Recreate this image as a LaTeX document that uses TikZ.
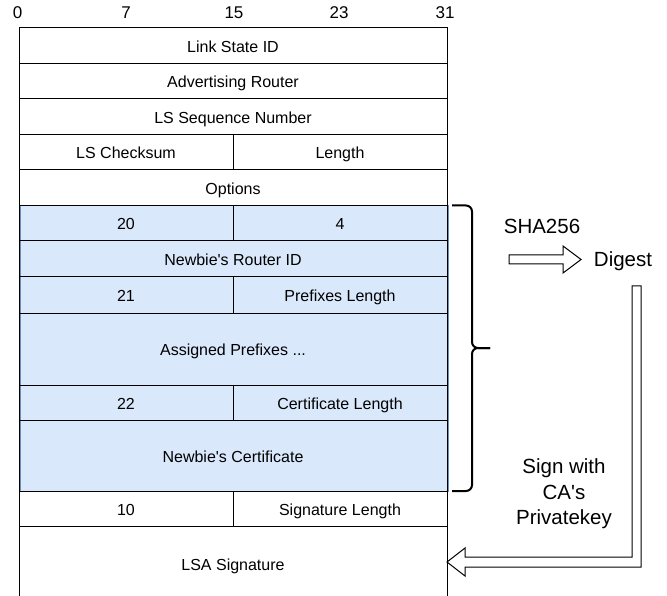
\documentclass[tikz,border=0pt]{standalone}
\usepackage{fontspec}
\setmainfont{Liberation Sans}
\definecolor{bluefill}{HTML}{DAE8FC}
\definecolor{bluestroke}{HTML}{6C8EBF}
\newcommand\mkcell[6]{\node[cellbox, minimum width={#4-#2}, minimum height={#5-#3}] (#1) at ({(#2+#4)/2},{(#3+#5)/2}) {#6};}
\newcommand\apos{\textquotesingle}
\tikzset{
  cellbox/.style={draw=black, line width=1pt, inner sep=0pt, rectangle, text height=13.5pt, text depth=0pt, font=\fontsize{16}{19}\selectfont},
  bitnum/.style={font=\fontsize{17}{20}\selectfont, inner sep=0pt, text height=12pt, text depth=0pt},
  biglabel/.style={font=\fontsize{20.5}{25.5}\selectfont, inner sep=0pt, align=center},
  hollow/.style={draw=black, line width=1pt, fill=white, line join=miter},
  bracepath/.style={draw=black, line width=2pt, rounded corners=6pt}
}
\begin{document}
\begin{tikzpicture}[x=1pt,y=-1pt]
\clip (0,0) rectangle (667,596);
\fill[white] (0,0) rectangle (667,596);
% bit numbers
\node[bitnum] (b0) at (17.5,13) {0};
\node[bitnum] (b7) at (126,13) {7};
\node[bitnum] (b15) at (234,13) {15};
\node[bitnum] (b23) at (339,13) {23};
\node[bitnum] (b31) at (445,13) {31};
% blue background of signed region
\draw[fill=bluefill, draw=bluestroke, line width=1pt] (20,205.5) rectangle (448,491);
% cells
\mkcell{lsid}{19}{28}{447}{63.5}{Link State ID}
\mkcell{adv}{19}{63.5}{447}{99}{Advertising Router}
\mkcell{seq}{19}{99}{447}{134.5}{LS Sequence Number}
\mkcell{cks}{19}{134.5}{233}{170}{LS Checksum}
\mkcell{len}{233}{134.5}{447}{170}{Length}
\mkcell{opt}{19}{170}{447}{205.5}{Options}
\mkcell{t20}{19}{205.5}{233}{241}{20}
\mkcell{l4}{233}{205.5}{447}{241}{4}
\mkcell{rid}{19}{241}{447}{277}{Newbie\apos s Router ID}
\mkcell{t21}{19}{277}{233}{313}{21}
\mkcell{plen}{233}{277}{447}{313}{Prefixes Length}
\mkcell{apref}{19}{313}{447}{385}{Assigned Prefixes ...}
\mkcell{t22}{19}{385}{233}{420.5}{22}
\mkcell{clen}{233}{385}{447}{420.5}{Certificate Length}
\mkcell{cert}{19}{420.5}{447}{491}{Newbie\apos s Certificate}
\mkcell{t10}{19}{491}{233}{526.5}{10}
\mkcell{slen}{233}{491}{447}{526.5}{Signature Length}
\mkcell{sig}{19}{526.5}{447}{600}{LSA Signature}
% brace
\draw[bracepath] (452,205.5) -- (472,205.5) -- (472,348) -- (490,348);
\draw[bracepath] (452,491) -- (472,491) -- (472,348) -- (490,348);
% labels
\node[biglabel] (sha) at (542,226) {SHA256};
\node[biglabel] (dig) at (623,261) {Digest};
\node[biglabel] (signw) at (564,494) {Sign with\\CA\apos s\\Privatekey};
% hash arrow
\draw[hollow] (509,255) -- (563,255) -- (563,246) -- (581,259.5) -- (563,273) -- (563,264) -- (509,264) -- cycle;
% sign arrow
\draw[hollow] (632,286) -- (641,286) -- (641,567) -- (465,567) -- (465,576) -- (447,562) -- (465,548) -- (465,557) -- (632,557) -- cycle;
\end{tikzpicture}
\end{document}
